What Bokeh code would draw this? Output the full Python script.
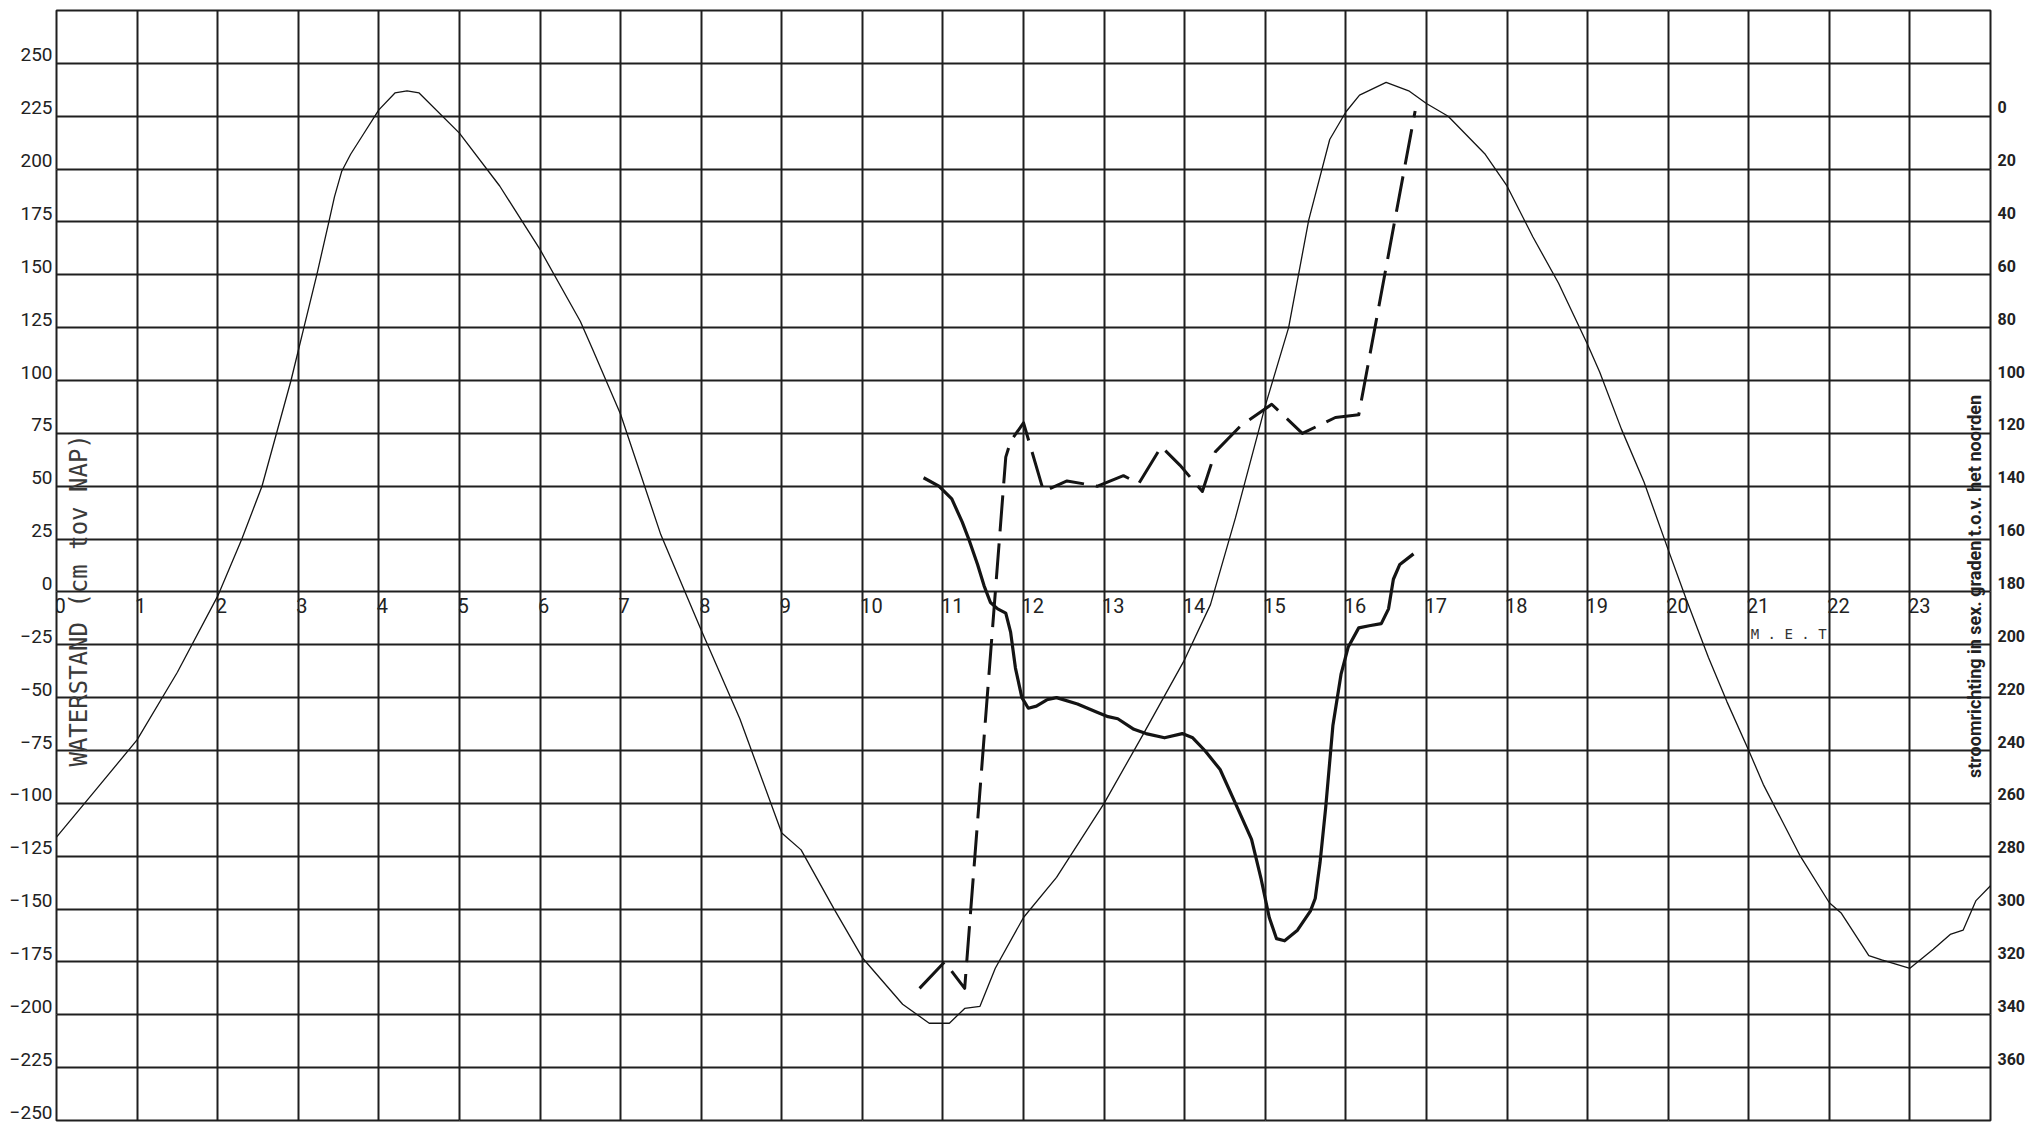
from bokeh.plotting import figure
from bokeh.models import Range1d, LinearAxis, FixedTicker, Grid
from bokeh.core.properties import value
from bokeh.embed import file_html
from bokeh.resources import INLINE

# ---------------- data ----------------
hour_ticks = list(range(0, 25))
hour_labels = [str(h) for h in range(0, 24)]
level_ticks = list(range(-250, 276, 25))
level_label_ticks = list(range(-250, 251, 25))
deg_ticks = list(range(0, 361, 20))

# waterstand (cm tov NAP)
wl_t = [0, 0.5, 1, 1.5, 2, 2.3, 2.55, 2.91, 3.07, 3.23, 3.38, 3.45, 3.54, 3.65, 3.8, 4.0, 4.2,
        4.35, 4.5, 5, 5.5, 6, 6.5, 6.65, 7, 7.5, 7.8, 8, 8.48, 9, 9.24, 9.65, 10, 10.5, 10.83,
        11.08, 11.27, 11.46, 11.65, 12, 12.41, 13, 13.49, 14, 14.32, 14.63, 15, 15.29, 15.54,
        15.8, 16, 16.17, 16.5, 16.78, 17, 17.27, 17.73, 18, 18.32, 18.64, 19, 19.15, 19.42,
        19.7, 20, 20.22, 20.5, 20.73, 21, 21.18, 21.64, 22, 22.15, 22.49, 22.65, 23, 23.29,
        23.5, 23.66, 23.82, 24]
wl_v = [-116, -93, -70, -38, -2, 25, 50, 100, 125, 150, 175, 187, 199, 207, 216, 228, 236,
        237, 236, 217, 192, 162, 128, 115, 84, 27, 0, -18, -60, -114, -122, -150, -173, -195, -204,
        -204, -197, -196, -178, -154, -135, -100, -67, -32, -6, 35, 88, 125, 176,
        214, 227, 235, 241, 237, 231, 225, 207, 192, 168, 146, 117, 104, 77,
        52, 20, -3, -31, -52, -75, -91, -125, -147, -152, -172, -174, -178, -169,
        -162, -160, -146, -139]

# thick solid curve (measured, left scale)
sp_t = [10.76, 10.95, 11.11, 11.24, 11.33, 11.43, 11.51, 11.59, 11.68, 11.78, 11.84, 11.9,
        11.98, 12.06, 12.16, 12.29, 12.41, 12.67, 12.92, 13.05, 13.17, 13.37, 13.52, 13.75,
        13.97, 14.1, 14.25, 14.44, 14.63, 14.83, 14.95, 15.05, 15.14, 15.24, 15.4, 15.56,
        15.62, 15.68, 15.75, 15.84, 15.94, 16.03, 16.16, 16.29, 16.44, 16.53, 16.59, 16.67,
        16.84]
sp_v = [54, 50, 44, 33, 24, 13, 3, -5, -8, -10, -19, -36,
        -50, -55, -54, -51, -50, -53, -57, -59, -60, -65, -67, -69,
        -67, -69, -75, -84, -100, -117, -136, -154, -164, -165, -160, -151,
        -145, -128, -102, -63, -39, -26, -17, -16, -15, -8, 6, 13,
        18]

# dashed curve: stroomrichting (graden t.o.v. het noorden, right scale)
dir_t = [10.71, 11.02, 11.27, 11.78, 11.84, 12.0, 12.25, 12.54, 12.92, 13.24, 13.43, 13.71,
         13.94, 14.22, 14.38, 14.7, 15.08, 15.46, 15.87, 16.16, 16.86]
dir_d = [330, 320, 330, 129, 123, 116, 142, 138, 140, 136, 139, 125,
         132, 142, 127, 117, 109, 120, 114, 113, -2]

GRID = "#1f1f1f"
INK = "#141414"
FONT = "Roboto"

p = figure(width=2028, height=1124, output_backend="svg", toolbar_location=None,
           x_range=Range1d(0, 24), y_range=Range1d(-250, 275),
           x_axis_location=None, y_axis_location=None,
           min_border_left=56, min_border_right=38, min_border_top=10, min_border_bottom=4)
p.background_fill_color = "white"
p.border_fill_color = "white"
p.outline_line_color = GRID
p.outline_line_width = 2

p.add_layout(Grid(dimension=0, ticker=FixedTicker(ticks=hour_ticks),
                  grid_line_color=GRID, grid_line_width=2))
p.add_layout(Grid(dimension=1, ticker=FixedTicker(ticks=level_ticks),
                  grid_line_color=GRID, grid_line_width=2))

# label ranges (labels sit slightly above their grid lines, as in the plot)
p.extra_y_ranges = {
    "lab_left": Range1d(-254, 271),
    "deg": Range1d(380, -40),
    "lab_deg": Range1d(383.4, -36.6),
}

left = LinearAxis(y_range_name="lab_left", ticker=FixedTicker(ticks=level_label_ticks),
                  major_tick_in=0, major_tick_out=0, minor_tick_in=0, minor_tick_out=0,
                  axis_line_color=None, major_label_standoff=4,
                  major_label_text_font=FONT,
                  major_label_text_font_size="19px", major_label_text_color="#222")
p.add_layout(left, "left")

right = LinearAxis(y_range_name="lab_deg", ticker=FixedTicker(ticks=deg_ticks),
                   major_tick_in=0, major_tick_out=0, minor_tick_in=0, minor_tick_out=0,
                   axis_line_color=None, major_label_standoff=7,
                   major_label_text_font=FONT,
                   major_label_text_font_style="bold",
                   major_label_text_font_size="16px", major_label_text_color="#222")
p.add_layout(right, "right")

# hour labels inside the plot, just under the zero line
p.text(x=hour_ticks[:-1], y=[0] * len(hour_labels), text=hour_labels,
       text_font=value(FONT), text_font_size="20px",
       text_color="#222", text_align="left", text_baseline="top",
       x_offset=-2, y_offset=6)

p.text(x=[21.0], y=[-20], text=["M . E . T"], text_font=value("DejaVu Sans Mono"),
       text_font_size="14px", text_color="#333", text_align="left",
       text_baseline="middle", x_offset=2)

p.text(x=[0.285], y=[-4], text=["WATERSTAND (cm tov NAP)"], angle=1.5708,
       text_font=value("DejaVu Sans Mono"), text_font_size="24px", text_color="#3a3a3a",
       text_align="center", text_baseline="middle")

p.text(x=[23.8], y=[2.6], text=["stroomrichting in sex. graden t.o.v. het noorden"],
       angle=1.5708, text_font=value(FONT), text_font_style="bold",
       text_font_size="18px", text_color="#222", text_align="center",
       text_baseline="middle")

# curves
p.line(wl_t, wl_v, line_color=INK, line_width=1.3)
p.line(sp_t, sp_v, line_color=INK, line_width=3.2, line_join="round")
p.line(dir_t, dir_d, y_range_name="deg", line_color=INK, line_width=3,
       line_dash="36 12", line_join="round")

open("out.html", "w").write(file_html(p, INLINE))
